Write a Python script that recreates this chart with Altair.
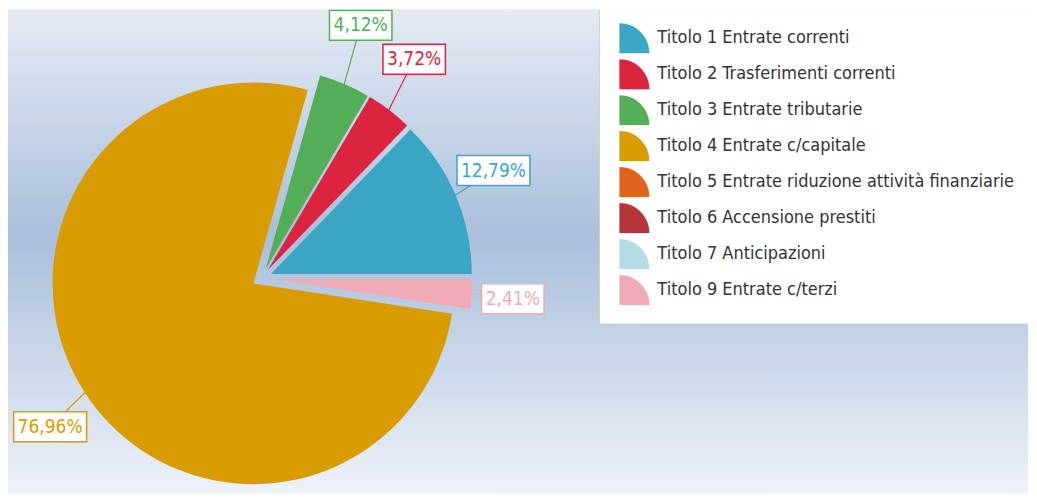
import math
import altair as alt
import pandas as pd

# ---- data ----
categories = [
    "Titolo 1 Entrate correnti",
    "Titolo 2 Trasferimenti correnti",
    "Titolo 3 Entrate tributarie",
    "Titolo 4 Entrate c/capitale",
    "Titolo 5 Entrate riduzione attività finanziarie",
    "Titolo 6 Accensione prestiti",
    "Titolo 7 Anticipazioni",
    "Titolo 9 Entrate c/terzi",
]
values = [12.79, 3.72, 4.12, 76.96, 0.0, 0.0, 0.0, 2.41]
colors = ["#3aa5c4", "#dc243e", "#54ae57", "#d99c00",
          "#e0631f", "#b53636", "#b3dde6", "#f0a9b5"]

# ---- layout / style ----
W, H = 1021, 485
CX, CY = 254, 269
R = 201
EXPLODE = 10
LABEL_RX = 252
LABEL_RY = 275
FONT = "Liberation Sans Narrow, DejaVu Sans Condensed, Arial Narrow, sans-serif"
TOTAL = sum(values)

df = pd.DataFrame({"cat": categories, "value": values, "color": colors,
                   "idx": list(range(len(categories)))})

base = (
    alt.Chart(df)
    .transform_joinaggregate(total="sum(value)")
    .transform_window(cum="sum(value)", sort=[alt.SortField("idx")], frame=[None, 0])
    .transform_calculate(
        start="datum.cum - datum.value",
        mid="PI/2 - 2*PI*(datum.cum - datum.value/2)/datum.total",
        cx=f"{CX} + {EXPLODE}*sin(datum.mid)",
        cy=f"{CY} - {EXPLODE}*cos(datum.mid)",
        ex=f"datum.cx + {R - 3}*sin(datum.mid)",
        ey=f"datum.cy - {R - 3}*cos(datum.mid)",
        lx=f"{CX} + {LABEL_RX}*sin(datum.mid)",
        ly=f"{CY} - {LABEL_RY}*cos(datum.mid)",
        label="replace(format(datum.value, '.2f'), '.', ',') + '%'",
        bw="length(datum.label)*10.5 + 10",
        bx1="datum.lx - datum.bw/2",
        bx2="datum.lx + datum.bw/2",
        by1="datum.ly - 15",
        by2="datum.ly + 15",
    )
)

bg = alt.Chart(pd.DataFrame({"a": [0]})).mark_rect(
    fill=alt.LinearGradient(
        gradient="linear", x1=0, x2=0, y1=0, y2=1,
        stops=[
            alt.GradientStop(color="#e5ebf5", offset=0),
            alt.GradientStop(color="#a9bfdb", offset=0.47),
            alt.GradientStop(color="#eef2f9", offset=1),
        ],
    )
).encode(x=alt.value(0), x2=alt.value(W), y=alt.value(0), y2=alt.value(H))

legend_box = alt.Chart(pd.DataFrame({"a": [0]})).mark_rect(fill="white").encode(
    x=alt.value(592), x2=alt.value(W), y=alt.value(0), y2=alt.value(315))
legend_left = alt.Chart(pd.DataFrame({"a": [0]})).mark_rule(color="#cfcfcf").encode(
    x=alt.value(592), y=alt.value(0), y2=alt.value(315))
legend_bottom = alt.Chart(pd.DataFrame({"a": [0]})).mark_rule(color="#cfcfcf").encode(
    x=alt.value(592), x2=alt.value(W), y=alt.value(315))

arcs = base.mark_arc().encode(
    theta=alt.Theta("start:Q", stack=None,
                    scale=alt.Scale(domain=[0, TOTAL],
                                    range=[math.pi / 2, math.pi / 2 - 2 * math.pi],
                                    nice=False)),
    theta2=alt.Theta2("cum:Q"),
    x=alt.X("cx:Q", scale=None),
    y=alt.Y("cy:Q", scale=None),
    radius=alt.value(R),
    color=alt.Color(
        "cat:N",
        scale=alt.Scale(domain=categories, range=colors),
        legend=alt.Legend(
            title=None, orient="none", legendX=612, legendY=14,
            symbolType="M-1,1L-1,-1A2,2 0 0,1 1,1Z", symbolSize=900,
            symbolStrokeWidth=0, symbolOpacity=1,
            labelFont=FONT, labelFontSize=18, labelColor="#333333",
            rowPadding=6, labelOffset=8, padding=0, labelLimit=0,
        ),
    ),
)

labelled = base.transform_filter("datum.value > 0")

leaders = labelled.mark_rule(strokeWidth=1.2).encode(
    x=alt.X("ex:Q", scale=None), y=alt.Y("ey:Q", scale=None),
    x2="lx:Q", y2="ly:Q",
    color=alt.Color("color:N", scale=None),
)
boxes = labelled.mark_rect(fill="white", strokeWidth=1.5).encode(
    x=alt.X("bx1:Q", scale=None), x2="bx2:Q",
    y=alt.Y("by1:Q", scale=None), y2="by2:Q",
    stroke=alt.Stroke("color:N", scale=None),
)
texts = labelled.mark_text(font=FONT, fontSize=19, align="center", baseline="middle").encode(
    x=alt.X("lx:Q", scale=None), y=alt.Y("ly:Q", scale=None),
    text="label:N",
    color=alt.Color("color:N", scale=None),
)

chart = (
    alt.layer(bg, legend_box, legend_left, legend_bottom, arcs, leaders, boxes, texts)
    .properties(width=W, height=H, padding=0)
    .configure_view(stroke=None)
)

chart.save("out.html", embed_options={"renderer": "svg", "actions": False})
